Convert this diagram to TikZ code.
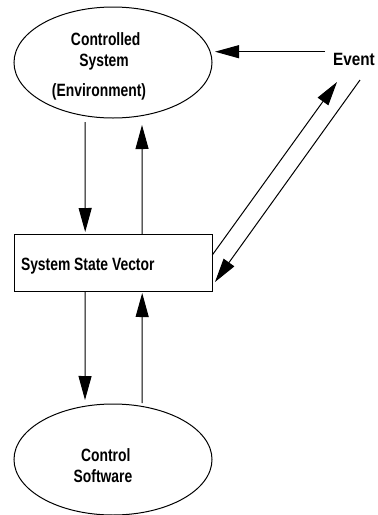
\documentclass[tikz,border=0pt]{standalone}
\usepackage{fontspec}
\setmainfont{Liberation Sans}[FakeStretch=0.78]
\usetikzlibrary{shapes.geometric,arrows.meta,calc}
\begin{document}
\begin{tikzpicture}[x=1pt,y=-1pt,
  every node/.style={inner sep=0pt,outer sep=0pt},
  lbl/.style={font=\fontsize{17.8}{19}\selectfont\bfseries,anchor=base},
  oval/.style={ellipse,draw,line width=1pt,minimum width=198pt,minimum height=111pt},
  boxed/.style={rectangle,draw,line width=1pt,minimum width=198pt,minimum height=56.5pt},
  arr/.style={line width=1pt,-{Triangle[length=24pt,width=13pt]}}]
\useasboundingbox (0,0) rectangle (378,515);
% shapes
\node[oval] (ctrl) at (113,62.5) {};
\node[boxed] (ssv) at (113.2,262.75) {};
\node[oval] (sw) at (113,459.5) {};
% labels
\node[lbl] (t1) at (105.7,45) {Controlled};
\node[lbl] (t2) at (104,66.7) {System};
\node[lbl] (t3) at (99,96.7) {(Environment)};
\node[lbl,font=\fontsize{17.8}{19}\selectfont\bfseries\addfontfeature{FakeStretch=0.86}] (ev) at (354,65) {Event};
\node[lbl,anchor=base west] (t4) at (21,270) {System State Vector};
\node[lbl] (t5) at (105.8,461.7) {Control};
\node[lbl] (t6) at (103,482.3) {Software};
% connector end points
\coordinate (evL) at (325,51.7);
\coordinate (ctrlR) at (215,51.7);
\coordinate (ssvR1) at (212.3,255);
\coordinate (evU) at (337,82);
\coordinate (evD) at (360,80);
\coordinate (ssvR2) at (215,282);
% connectors
\draw[arr] (evL) -- (ctrlR);
\draw[arr] ($(ctrl.south)+(-28,4)$) -- ($(ssv.north)+(-28,-2.5)$);
\draw[arr] ($(ssv.north)+(29,0)$) -- ($(ctrl.south)+(29,7)$);
\draw[arr] ($(ssv.south)+(-28,0)$) -- ($(sw.north)+(-28,-4)$);
\draw[arr] ($(sw.north)+(29,-1)$) -- ($(ssv.south)+(29,2)$);
\draw[arr] (ssvR1) -- (evU);
\draw[arr] (evD) -- (ssvR2);
\end{tikzpicture}
\end{document}
